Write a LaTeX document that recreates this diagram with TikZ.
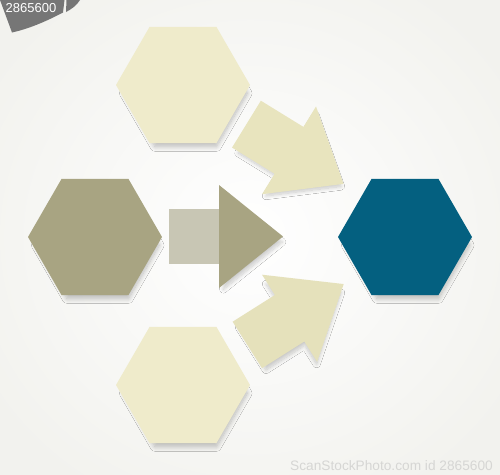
\documentclass[tikz,border=0pt]{standalone}
\usepackage{fontspec}
\setmainfont{Liberation Sans}
\usetikzlibrary{shapes.geometric,shadows.blur}
\definecolor{cream}{RGB}{239,235,203}
\definecolor{arrowcream}{RGB}{232,228,190}
\definecolor{olive}{RGB}{168,164,130}
\definecolor{oliveLight}{RGB}{200,198,180}
\definecolor{tealblue}{RGB}{4,96,128}
\definecolor{tabgray}{RGB}{118,118,118}
\definecolor{bgedge}{RGB}{242,242,238}
\definecolor{wmgray}{RGB}{214,214,212}
\tikzset{
  hexa/.style={regular polygon, regular polygon sides=6, minimum size=134pt,
    inner sep=0pt, draw=none,
    blur shadow={shadow xshift=3pt, shadow yshift=-9pt, shadow scale=0.92,
      shadow blur radius=5pt, shadow blur steps=10, shadow opacity=25}},
  arrowshape/.style={draw=none,
    blur shadow={shadow xshift=2pt, shadow yshift=-6pt, shadow scale=0.92,
      shadow blur radius=4pt, shadow blur steps=10, shadow opacity=20}},
  wmtext/.style={font=\fontsize{13.7}{16}\selectfont, text=wmgray, inner sep=0pt}
}
\begin{document}
\begin{tikzpicture}[x=1pt,y=-1pt]
  % background
  \useasboundingbox (0,0) rectangle (500,474);
  \shade[inner color=white, outer color=bgedge] (-60,-60) rectangle (560,534);

  % corner tab
  \fill[tabgray] (0,0) -- (64.5,0) -- (63,12.5)
     .. controls (45,22) and (28,29) .. (12,32.5) -- cycle;
  \fill[tabgray] (66.5,0) -- (80,0) .. controls (77,5) and (72,9) .. (66,12) -- cycle;
  \node[text=white, font=\fontsize{13}{15}\selectfont, inner sep=0pt, anchor=base west]
     (tabid) at (5.5,12.7) {2865600};

  % hexagons
  \node[hexa, fill=cream] (hexT) at (183,85) {};
  \node[hexa, fill=olive] (hexL) at (95,237) {};
  \node[hexa, fill=tealblue] (hexR) at (405,237) {};
  \node[hexa, fill=cream] (hexB) at (183,385) {};

  % arrows
  \coordinate (arrM) at (226,236.5);
  \coordinate (arrU) at (295,154);
  \coordinate (arrD) at (295.5,314.5);
  \begin{scope}[shift={(arrU)}, rotate=-31.6]
    \fill[arrowshape, arrowcream] (-57,-27.5) -- (-7,-27.5) -- (-7,-51.5) -- (57,0)
      -- (-7,51.5) -- (-7,27.5) -- (-57,27.5) -- cycle;
  \end{scope}
  \begin{scope}[shift={(arrD)}, rotate=32.3]
    \fill[arrowshape, arrowcream!95!olive] (-57,-27.5) -- (-7,-27.5) -- (-7,-51.5) -- (57,0)
      -- (-7,51.5) -- (-7,27.5) -- (-57,27.5) -- cycle;
  \end{scope}
  \begin{scope}[shift={(arrM)}]
    \fill[arrowshape, olive] (-7,-51.5) -- (57,0) -- (-7,51.5) -- cycle;
    \fill[oliveLight] (-57,-27.5) rectangle (-7,27.5);
  \end{scope}

  % bottom credit line
  \node[wmtext, anchor=base east] (credit) at (493,470) {ScanStockPhoto.com id 2865600};
\end{tikzpicture}
\end{document}
